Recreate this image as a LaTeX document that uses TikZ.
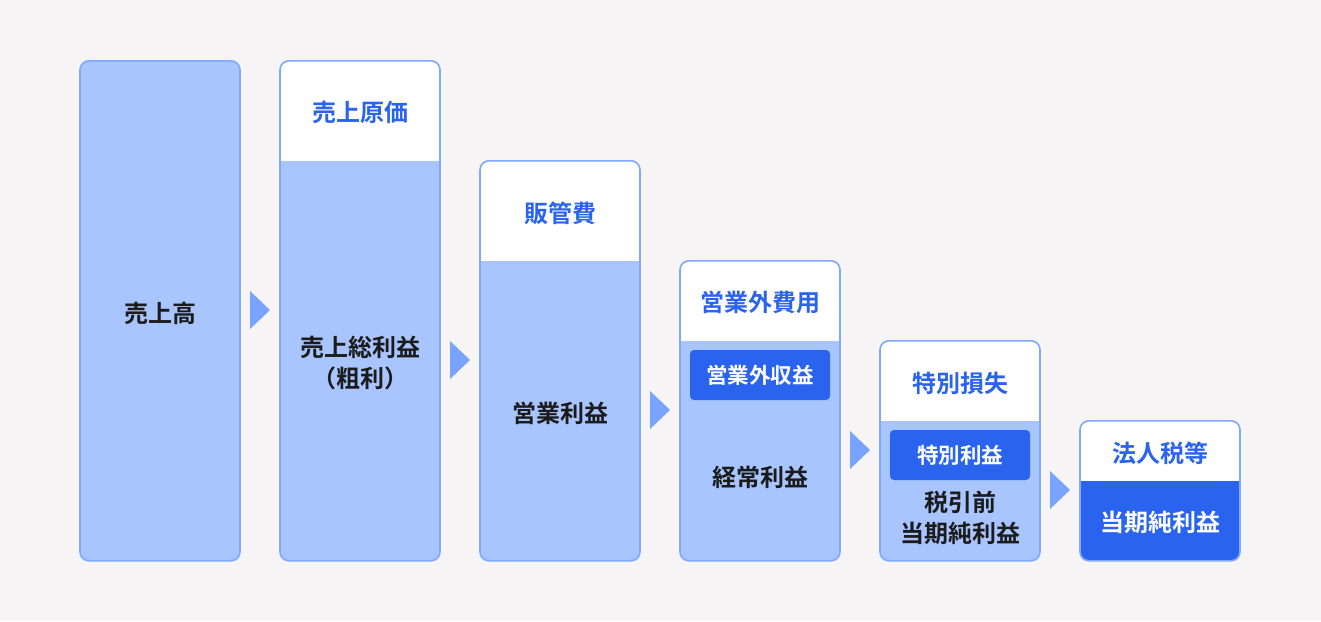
\documentclass[tikz,border=0pt]{standalone}
\usepackage{fontspec}
\newfontfamily\jpfont{Noto Sans CJK JP}[BoldFont={Noto Sans CJK JP Bold}]
\usetikzlibrary{calc,positioning}
\usepackage{xcolor}
\newcommand{\myunit}{20pt}
\definecolor{bggray}{HTML}{F6F4F5}
\definecolor{paleblue}{HTML}{A8C5FF}
\definecolor{edgeblue}{HTML}{7EA9FF}
\definecolor{markblue}{HTML}{2A64EE}
\definecolor{arrowblue}{HTML}{78A4FF}
\definecolor{inkblack}{HTML}{1B1B1B}
\tikzset{
    colsty/.style={draw=edgeblue,line width=1.6pt,fill=paleblue,rectangle,rounded corners=9pt,minimum width=8*\myunit,inner sep=0pt,anchor=north},
    hdsty/.style={colsty,path picture={\fill[white,sharp corners] (path picture bounding box.north west) rectangle ([yshift=-#1]path picture bounding box.north east);}},
    txtsty/.style={font=\jpfont\bfseries\fontsize{24}{31}\selectfont,text=inkblack,align=center,inner sep=0pt},
    hdtxtsty/.style={txtsty,text=markblue},
    chipsty/.style={fill=markblue,rectangle,rounded corners=4pt,minimum width=7*\myunit,minimum height=2.5*\myunit,text=white,font=\jpfont\bfseries\fontsize{21.5}{25}\selectfont},
    arrsty/.style={fill=arrowblue},
}

\begin{document}
\begin{tikzpicture}
\fill[bggray] (0,0) rectangle (66.05*\myunit, -31.05*\myunit);

% steps
\node (S1) [colsty, minimum height=25*\myunit] at (8*\myunit, -3*\myunit) {};
\node (S2) [hdsty=5*\myunit, minimum height=25*\myunit] at (18*\myunit, -3*\myunit) {};
\node (S3) [hdsty=5*\myunit, minimum height=20*\myunit] at (28*\myunit, -8*\myunit) {};
\node (S4) [hdsty=4*\myunit, minimum height=15*\myunit] at (38*\myunit, -13*\myunit) {};
\node (S5) [hdsty=4*\myunit, minimum height=11*\myunit] at (48*\myunit, -17*\myunit) {};
\node (S6) [hdsty=3*\myunit, fill=markblue, minimum height=7*\myunit] at (58*\myunit, -21*\myunit) {};

% labels
\node (S1l) [txtsty] at (8*\myunit, -15.65*\myunit) {売上高};
\node (S2h) [hdtxtsty] at (18*\myunit, -5.6*\myunit) {売上原価};
\node (S2l) [txtsty] at (18*\myunit, -18.15*\myunit) {売上総利益\\（粗利）};
\node (S3h) [hdtxtsty] at (28*\myunit, -10.65*\myunit) {販管費};
\node (S3l) [txtsty] at (28*\myunit, -20.65*\myunit) {営業利益};
\node (S4h) [hdtxtsty] at (38*\myunit, -15.1*\myunit) {営業外費用};
\node (S4c) [chipsty] at (38*\myunit, -18.75*\myunit) {営業外収益};
\node (S4l) [txtsty] at (38*\myunit, -23.85*\myunit) {経常利益};
\node (S5h) [hdtxtsty] at (48*\myunit, -19.15*\myunit) {特別損失};
\node (S5c) [chipsty] at (48*\myunit, -22.75*\myunit) {特別利益};
\node (S5l) [txtsty] at (48*\myunit, -25.9*\myunit) {税引前\\当期純利益};
\node (S6h) [hdtxtsty] at (58*\myunit, -22.65*\myunit) {法人税等};
\node (S6l) [txtsty, text=white] at (58*\myunit, -26.1*\myunit) {当期純利益};

% arrows
\coordinate (A1) at (13*\myunit, -15.5*\myunit);
\coordinate (A2) at (23*\myunit, -18*\myunit);
\coordinate (A3) at (33*\myunit, -20.5*\myunit);
\coordinate (A4) at (43*\myunit, -22.5*\myunit);
\coordinate (A5) at (53*\myunit, -24.5*\myunit);
\fill[arrsty] (A1) ++(-0.5*\myunit, 0.95*\myunit) -- ++(\myunit, -0.95*\myunit) -- ++(-\myunit, -0.95*\myunit) -- cycle;
\fill[arrsty] (A2) ++(-0.5*\myunit, 0.95*\myunit) -- ++(\myunit, -0.95*\myunit) -- ++(-\myunit, -0.95*\myunit) -- cycle;
\fill[arrsty] (A3) ++(-0.5*\myunit, 0.95*\myunit) -- ++(\myunit, -0.95*\myunit) -- ++(-\myunit, -0.95*\myunit) -- cycle;
\fill[arrsty] (A4) ++(-0.5*\myunit, 0.95*\myunit) -- ++(\myunit, -0.95*\myunit) -- ++(-\myunit, -0.95*\myunit) -- cycle;
\fill[arrsty] (A5) ++(-0.5*\myunit, 0.95*\myunit) -- ++(\myunit, -0.95*\myunit) -- ++(-\myunit, -0.95*\myunit) -- cycle;

\end{tikzpicture}
\end{document}
